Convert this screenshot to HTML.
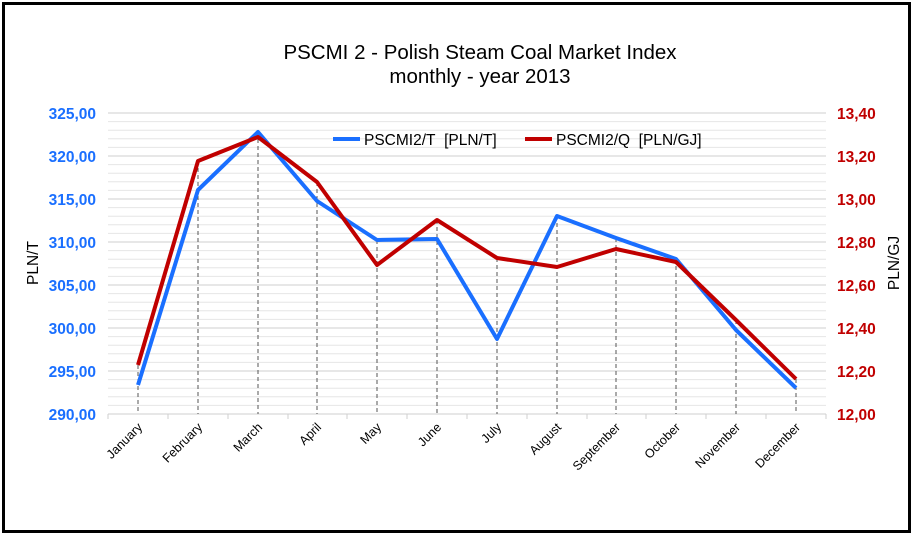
<!DOCTYPE html>
<html><head><meta charset="utf-8"><style>
body{margin:0;background:#fff;}
svg{display:block;font-family:"Liberation Sans",Arial,sans-serif;}
</style></head><body>
<svg width="914" height="536" viewBox="0 0 914 536">
<rect x="0" y="0" width="914" height="536" fill="#fff"/>
<rect x="3.5" y="3.5" width="906" height="528" fill="none" stroke="#000" stroke-width="3"/>
<g stroke="#e6e6e6" stroke-width="1">
<line x1="108" x2="826" y1="121.6" y2="121.6"/><line x1="108" x2="826" y1="130.2" y2="130.2"/><line x1="108" x2="826" y1="138.8" y2="138.8"/><line x1="108" x2="826" y1="147.4" y2="147.4"/>
<line x1="108" x2="826" y1="164.6" y2="164.6"/><line x1="108" x2="826" y1="173.2" y2="173.2"/><line x1="108" x2="826" y1="181.8" y2="181.8"/><line x1="108" x2="826" y1="190.4" y2="190.4"/>
<line x1="108" x2="826" y1="207.6" y2="207.6"/><line x1="108" x2="826" y1="216.2" y2="216.2"/><line x1="108" x2="826" y1="224.8" y2="224.8"/><line x1="108" x2="826" y1="233.4" y2="233.4"/>
<line x1="108" x2="826" y1="250.6" y2="250.6"/><line x1="108" x2="826" y1="259.2" y2="259.2"/><line x1="108" x2="826" y1="267.8" y2="267.8"/><line x1="108" x2="826" y1="276.4" y2="276.4"/>
<line x1="108" x2="826" y1="293.6" y2="293.6"/><line x1="108" x2="826" y1="302.2" y2="302.2"/><line x1="108" x2="826" y1="310.8" y2="310.8"/><line x1="108" x2="826" y1="319.4" y2="319.4"/>
<line x1="108" x2="826" y1="336.6" y2="336.6"/><line x1="108" x2="826" y1="345.2" y2="345.2"/><line x1="108" x2="826" y1="353.8" y2="353.8"/><line x1="108" x2="826" y1="362.4" y2="362.4"/>
<line x1="108" x2="826" y1="379.6" y2="379.6"/><line x1="108" x2="826" y1="388.2" y2="388.2"/><line x1="108" x2="826" y1="396.8" y2="396.8"/><line x1="108" x2="826" y1="405.4" y2="405.4"/>
</g>
<g stroke="#cfcfcf" stroke-width="1">
<line x1="108" x2="826" y1="113" y2="113"/><line x1="108" x2="826" y1="156" y2="156"/><line x1="108" x2="826" y1="199" y2="199"/><line x1="108" x2="826" y1="242" y2="242"/><line x1="108" x2="826" y1="285" y2="285"/><line x1="108" x2="826" y1="328" y2="328"/><line x1="108" x2="826" y1="371" y2="371"/><line x1="108" x2="826" y1="414" y2="414"/>
</g>
<g stroke="#cfcfcf" stroke-width="1">
<line x1="108" x2="108" y1="414" y2="419"/><line x1="168" x2="168" y1="414" y2="419"/><line x1="228" x2="228" y1="414" y2="419"/><line x1="288" x2="288" y1="414" y2="419"/><line x1="347" x2="347" y1="414" y2="419"/><line x1="407" x2="407" y1="414" y2="419"/><line x1="467" x2="467" y1="414" y2="419"/><line x1="527" x2="527" y1="414" y2="419"/><line x1="587" x2="587" y1="414" y2="419"/><line x1="646" x2="646" y1="414" y2="419"/><line x1="706" x2="706" y1="414" y2="419"/><line x1="766" x2="766" y1="414" y2="419"/><line x1="826" x2="826" y1="414" y2="419"/>
</g>
<g stroke="#555" stroke-width="1" stroke-dasharray="4,3">
<line x1="138" x2="138" y1="365" y2="414"/><line x1="198" x2="198" y1="161" y2="414"/><line x1="258" x2="258" y1="132" y2="414"/><line x1="317" x2="317" y1="182" y2="414"/><line x1="377" x2="377" y1="240" y2="414"/><line x1="437" x2="437" y1="220" y2="414"/><line x1="497" x2="497" y1="258" y2="414"/><line x1="557" x2="557" y1="216" y2="414"/><line x1="616" x2="616" y1="238" y2="414"/><line x1="676" x2="676" y1="259" y2="414"/><line x1="736" x2="736" y1="320" y2="414"/><line x1="796" x2="796" y1="379" y2="414"/>
</g>
<polyline fill="none" stroke="#1a6fff" stroke-width="4" stroke-linejoin="round" points="138,385 198,190 258,132 317,201 377,240 437,239 497,339 557,216 616,238 676,259 736,330 796,388"/>
<polyline fill="none" stroke="#c00000" stroke-width="4" stroke-linejoin="round" points="138,365 198,161 258,137 317,182 377,265 437,220 497,258 557,267 616,249 676,262 736,320 796,379"/>
<text x="480" y="59" text-anchor="middle" font-size="20.5" fill="#000">PSCMI 2 - Polish Steam Coal Market Index</text>
<text x="480" y="83" text-anchor="middle" font-size="20.5" fill="#000">monthly - year 2013</text>
<line x1="333" x2="360" y1="139" y2="139" stroke="#1a6fff" stroke-width="4"/>
<text x="364" y="145" font-size="15.5">PSCMI2/T&#160;&#160;[PLN/T]</text>
<line x1="525" x2="552" y1="139" y2="139" stroke="#c00000" stroke-width="4"/>
<text x="556" y="145" font-size="15.5">PSCMI2/Q&#160;&#160;[PLN/GJ]</text>
<g font-size="15.5" font-weight="bold" fill="#1a6fff" text-anchor="end">
<text x="96" y="119">325,00</text><text x="96" y="162">320,00</text><text x="96" y="205">315,00</text><text x="96" y="248">310,00</text><text x="96" y="291">305,00</text><text x="96" y="334">300,00</text><text x="96" y="377">295,00</text><text x="96" y="420">290,00</text>
</g>
<g font-size="15.5" font-weight="bold" fill="#c00000">
<text x="837" y="119">13,40</text><text x="837" y="162">13,20</text><text x="837" y="205">13,00</text><text x="837" y="248">12,80</text><text x="837" y="291">12,60</text><text x="837" y="334">12,40</text><text x="837" y="377">12,20</text><text x="837" y="420">12,00</text>
</g>
<text transform="translate(38,263) rotate(-90)" text-anchor="middle" font-size="15.5">PLN/T</text>
<text transform="translate(899,263) rotate(-90)" text-anchor="middle" font-size="15.5">PLN/GJ</text>
<g font-size="12.5" text-anchor="end">
<text transform="translate(143,428) rotate(-45)">January</text>
<text transform="translate(203,428) rotate(-45)">February</text>
<text transform="translate(263,428) rotate(-45)">March</text>
<text transform="translate(322,428) rotate(-45)">April</text>
<text transform="translate(382,428) rotate(-45)">May</text>
<text transform="translate(442,428) rotate(-45)">June</text>
<text transform="translate(502,428) rotate(-45)">July</text>
<text transform="translate(562,428) rotate(-45)">August</text>
<text transform="translate(621,428) rotate(-45)">September</text>
<text transform="translate(681,428) rotate(-45)">October</text>
<text transform="translate(741,428) rotate(-45)">November</text>
<text transform="translate(801,428) rotate(-45)">December</text>
</g>
</svg>
</body></html>
